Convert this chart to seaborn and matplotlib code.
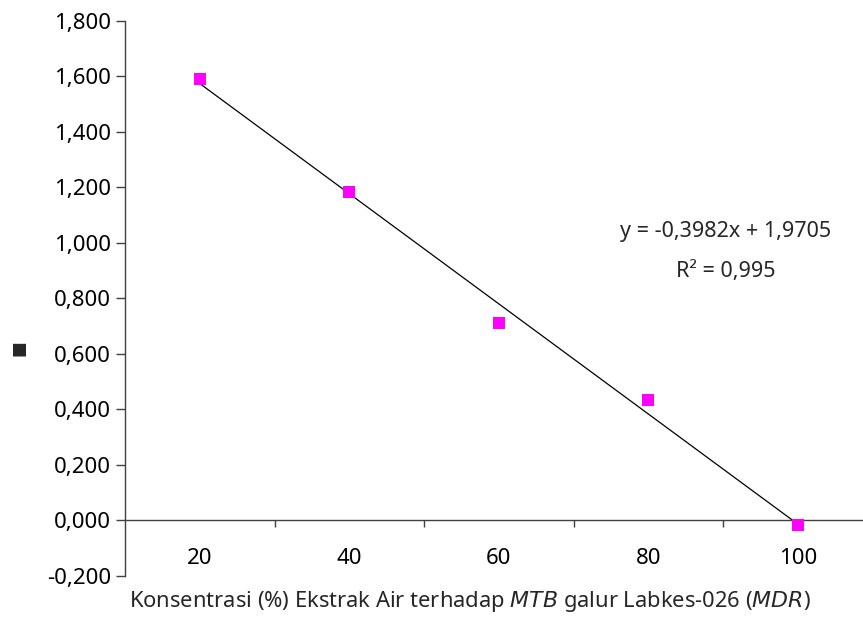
import numpy as np
import pandas as pd
import matplotlib
matplotlib.use("Agg")
import matplotlib.pyplot as plt
import seaborn as sns

# data (categories are plotted at positions 1..5)
konsentrasi = ["20", "40", "60", "80", "100"]
posisi = [1, 2, 3, 4, 5]
nilai = [1.591, 1.181, 0.712, 0.434, -0.018]
y_ticks = [-0.2, 0.0, 0.2, 0.4, 0.6, 0.8, 1.0, 1.2, 1.4, 1.6, 1.8]

df = pd.DataFrame({"x": posisi, "y": nilai})

sns.set_style("white")
plt.rcParams["font.family"] = ["Noto Sans", "DejaVu Sans"]

fig = plt.figure(figsize=(8.63, 6.21), dpi=100)
ax = fig.add_axes([125 / 863, 1 - 576 / 621, 747.5 / 863, 555.5 / 621])

# trendline
sns.regplot(data=df, x="x", y="y", scatter=False, ci=None, truncate=True,
            line_kws=dict(color="black", lw=0.9), ax=ax)
# points
sns.scatterplot(data=df, x="x", y="y", marker="s", s=70, color="#ff00ff",
                edgecolor="#ff00ff", linewidth=0, zorder=3, ax=ax)

ax.set_xlim(0.5, 5.5)
ax.set_ylim(-0.2, 1.8)

# spines: y axis on the left, x axis crossing at y = 0
for s in ["top", "right"]:
    ax.spines[s].set_visible(False)
ax.spines["bottom"].set_position(("data", 0))
ax.spines["left"].set_color("#404040")
ax.spines["bottom"].set_color("#404040")
ax.spines["left"].set_linewidth(1)
ax.spines["bottom"].set_linewidth(1)

ax.set_yticks(y_ticks)
ax.set_yticklabels([f"{v:.3f}".replace(".", ",") for v in y_ticks])
ax.tick_params(axis="y", which="major", left=True, direction="out", length=6.5,
               width=1, color="#404040", pad=3.5, labelsize=16, labelcolor="black")

# category boundaries as tick marks, labels in the middle
ax.set_xticks([1.5, 2.5, 3.5, 4.5, 5.5])
ax.set_xticklabels([])
ax.set_xticks(posisi, minor=True)
ax.set_xticklabels(konsentrasi, minor=True)
ax.tick_params(axis="x", which="major", bottom=True, direction="out", length=5,
               width=1, color="#404040")
ax.tick_params(axis="x", which="minor", bottom=True, length=0, pad=20,
               labelsize=16, labelcolor="black")

ax.set_xlabel("")
ax.set_ylabel("")
fig.text(470 / 863, 1 - 602 / 621,
         "Konsentrasi (%) Ekstrak Air terhadap $\\it{MTB}$ galur Labkes-026 ($\\it{MDR}$)",
         ha="center", va="center", fontsize=15.8)
fig.text(18 / 863, 1 - 348 / 621, "■", rotation=90, ha="center", va="center",
         fontsize=12, family="DejaVu Sans")

ax.text(4.52, 1.04, "y = -0,3982x + 1,9705", ha="center", va="center", fontsize=15.5)
ax.text(4.52, 0.895, "R² = 0,995", ha="center", va="center", fontsize=15.5)

fig.savefig("out.png", dpi=100)
